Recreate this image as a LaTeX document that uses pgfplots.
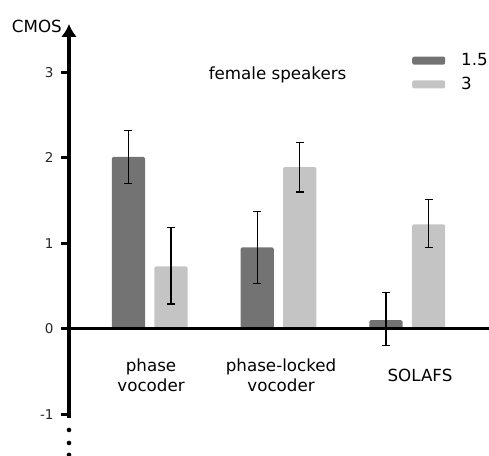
\documentclass[border=0pt]{standalone}
\usepackage{pgfplots}
\pgfplotsset{compat=1.18}
\usepackage{pgfplotstable}
\usepackage{fontspec}
\setmainfont{DejaVu Sans}
\usetikzlibrary{arrows.meta,calc}
\definecolor{darkbar}{RGB}{115,115,115}
\definecolor{lightbar}{RGB}{196,196,196}
\pgfplotstableread{
x y ep em
1 2.01 0.31 0.31
2 0.95 0.42 0.42
3 0.10 0.32 0.30
}\darkdata
\pgfplotstableread{
x y ep em
1 0.73 0.45 0.44
2 1.89 0.29 0.29
3 1.22 0.29 0.27
}\lightdata
\begin{document}
\begin{tikzpicture}
\begin{axis}[name=ax,
  scale only axis, width=420pt, height=394pt,
  xmin=0.373, xmax=3.635, ymin=-1.045, ymax=3.564,
  axis x line=middle, axis y line=left,
  axis on top,
  clip=false,
  axis line style={line width=3.3pt, black},
  x axis line style={-},
  y axis line style={-{Latex[length=13pt,width=16pt]}},
  ybar, bar width=33.3pt,
  ytick={-1,0,1,2,3},
  xtick={1.010,2.020,3.099},
  xticklabels={phase\\vocoder, phase-locked\\vocoder, SOLAFS},
  xtick style={draw=none},
  ytick style={line width=2.8pt, black},
  major tick length=8pt,
  tick align=outside,
  /pgf/number format/assume math mode=true,
  yticklabel shift=4pt,
  yticklabel style={font=\fontsize{13.5}{15}\selectfont, text=black!85},
  xticklabel style={align=center, anchor=center, yshift=-39pt, font=\fontsize{16.7}{20}\selectfont},
  legend cell align=left,
  legend style={at={(rel axis cs:0.8167,0.93)}, anchor=north west, draw=none, fill=none,
    font=\fontsize{16.7}{18}\selectfont, row sep=6pt, inner sep=0pt,
    /tikz/every odd column/.append style={column sep=14pt}},
  sw/.style={legend image code/.code={\fill[##1, rounded corners=2pt] (0pt,-4pt) rectangle (33pt,4pt);}},
]
\addplot[sw, fill=darkbar, draw=none, rounded corners=1.5pt, bar shift=-21.3pt,
  error bars/.cd, y dir=both, y explicit,
  error bar style={line width=1.3pt, black, sharp corners},
  error mark options={rotate=90, line width=1.3pt, mark size=4pt, black}]
  table[x=x, y=y, y error plus=ep, y error minus=em] {\darkdata};
\addlegendentry{1.5}
\addplot[sw, fill=lightbar, draw=none, rounded corners=1.5pt, bar shift=21.3pt,
  error bars/.cd, y dir=both, y explicit,
  error bar style={line width=1.3pt, black, sharp corners},
  error mark options={rotate=90, line width=1.3pt, mark size=4pt, black}]
  table[x=x, y=y, y error plus=ep, y error minus=em] {\lightdata};
\addlegendentry{3}
\node[anchor=base, font=\fontsize{16.7}{20}\selectfont] at (axis cs:1.993,2.909) {female speakers};
\fill (axis cs:0.373,-1.185) circle[radius=2.3pt];
\fill (axis cs:0.373,-1.337) circle[radius=2.3pt];
\fill (axis cs:0.373,-1.477) circle[radius=2.3pt];
\end{axis}
\node[anchor=east, inner sep=0pt, font=\fontsize{16.7}{20}\selectfont] at ($(ax.north west)+(-7pt,-2pt)$) {CMOS};
\pgfresetboundingbox
\path[use as bounding box] ($(ax.south west)+(-69pt,-38pt)$) rectangle ($(ax.north east)+(0pt,24pt)$);
\end{tikzpicture}
\end{document}
